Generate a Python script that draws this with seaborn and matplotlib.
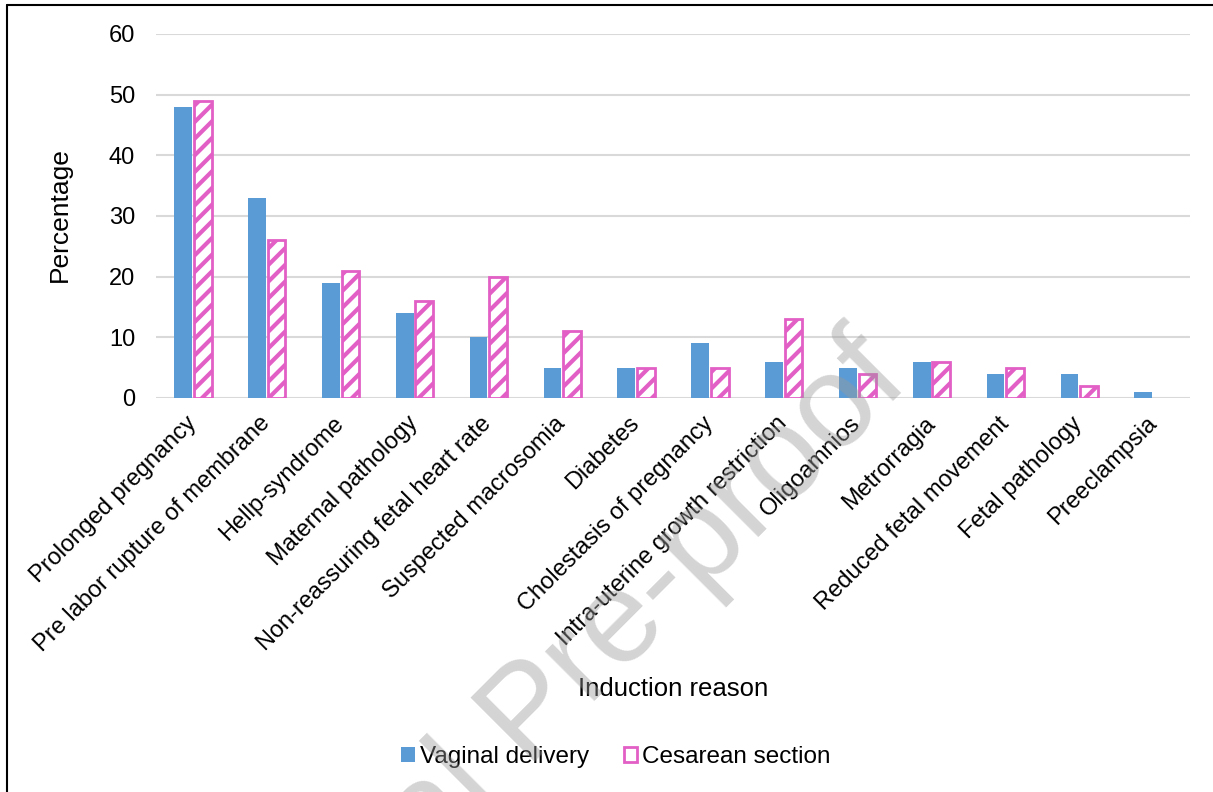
import numpy as np
import pandas as pd
import matplotlib
matplotlib.use("Agg")
import matplotlib.pyplot as plt
from matplotlib.patches import Patch
from matplotlib.lines import Line2D
import seaborn as sns

# Induction reasons and percentages per delivery mode
reasons = [
    "Prolonged pregnancy", "Pre labor rupture of membrane", "Hellp-syndrome",
    "Maternal pathology", "Non-reassuring fetal heart rate", "Suspected macrosomia",
    "Diabetes", "Cholestasis of pregnancy", "Intra-uterine growth restriction",
    "Oligoamnios", "Metrorragia", "Reduced fetal movement", "Fetal pathology",
    "Preeclampsia",
]
vaginal = [48, 33, 19, 14, 10, 5, 5, 9, 6, 5, 6, 4, 4, 1]
cesarean = [49, 26, 21, 16, 20, 11, 5, 5, 13, 4, 6, 5, 2, 0]
groups = ["Vaginal delivery", "Cesarean section"]
y_ticks = [0, 10, 20, 30, 40, 50, 60]

BLUE = "#5B9BD5"
PINK = "#E25FC6"

df = pd.DataFrame({
    "reason": reasons * 2,
    "value": vaginal + cesarean,
    "group": [groups[0]] * len(reasons) + [groups[1]] * len(reasons),
})

sns.set_style("white")
plt.rcParams["font.family"] = ["Liberation Sans", "DejaVu Sans"]
plt.rcParams["hatch.linewidth"] = 3.0
plt.rcParams["text.color"] = "black"
plt.rcParams["axes.labelcolor"] = "black"
plt.rcParams["xtick.color"] = "black"
plt.rcParams["ytick.color"] = "black"

fig = plt.figure(figsize=(12.13, 7.92), dpi=100)
ax = fig.add_axes([156 / 1213, 1 - 398 / 792, (1190 - 156) / 1213, (398 - 34) / 792])

sns.barplot(data=df, x="reason", y="value", hue="group", order=reasons,
            hue_order=groups, palette=[BLUE, PINK], width=0.53, gap=0.1,
            ax=ax, legend=False, zorder=2)

for bar in ax.containers[0]:
    bar.set_facecolor(BLUE)
    bar.set_edgecolor("none")
for bar in ax.containers[1]:
    bar.set_facecolor("white")
    bar.set_edgecolor(PINK)
    bar.set_linewidth(2.0 if bar.get_height() > 0 else 0)
    bar.set_hatch("//")

ax.set_ylim(0, 60)
ax.set_yticks(y_ticks)
ax.set_xlim(-0.5, len(reasons) - 0.5)
ax.yaxis.grid(True, color="#D9D9D9", linewidth=1.5, zorder=0)
ax.set_axisbelow(True)
for s in ax.spines.values():
    s.set_visible(False)
ax.tick_params(axis="both", length=0, labelsize=17, colors="black")
ax.tick_params(axis="y", pad=15)
ax.tick_params(axis="x", pad=16)
ax.set_xticks(range(len(reasons)))
ax.set_xticklabels(reasons, rotation=45, ha="right", va="center", rotation_mode="anchor")
ax.set_ylabel("Percentage", fontsize=19)
ax.yaxis.set_label_coords(-0.081, 0.503)
ax.set_xlabel("Induction reason", fontsize=18.5)
ax.xaxis.set_label_coords(0.5, -(677 - 398) / (398 - 34))

handles = [Patch(facecolor=BLUE, edgecolor="none"),
           Patch(facecolor="white", edgecolor=PINK, linewidth=2.0)]
fig.legend(handles, groups, loc="center", bbox_to_anchor=(616 / 1213, 1 - 757 / 792),
           ncol=2, frameon=False, fontsize=17.5, handlelength=0.55, handleheight=0.55,
           handletextpad=0.2, columnspacing=1.45)

# watermark
fig.text(912 / 1213, 1 - 384 / 792, "Journal Pre-proof", fontsize=94, color="#999999",
         alpha=0.42, rotation=45, rotation_mode="anchor", ha="right", va="baseline",
         zorder=10)

# figure border (left and top)
fig.add_artist(Line2D([7 / 1213, 7 / 1213], [0, 1 - 5 / 792], color="black", linewidth=1.5))
fig.add_artist(Line2D([7 / 1213, 1], [1 - 5 / 792, 1 - 5 / 792], color="black", linewidth=1.5))

fig.savefig("out.png", dpi=100)
